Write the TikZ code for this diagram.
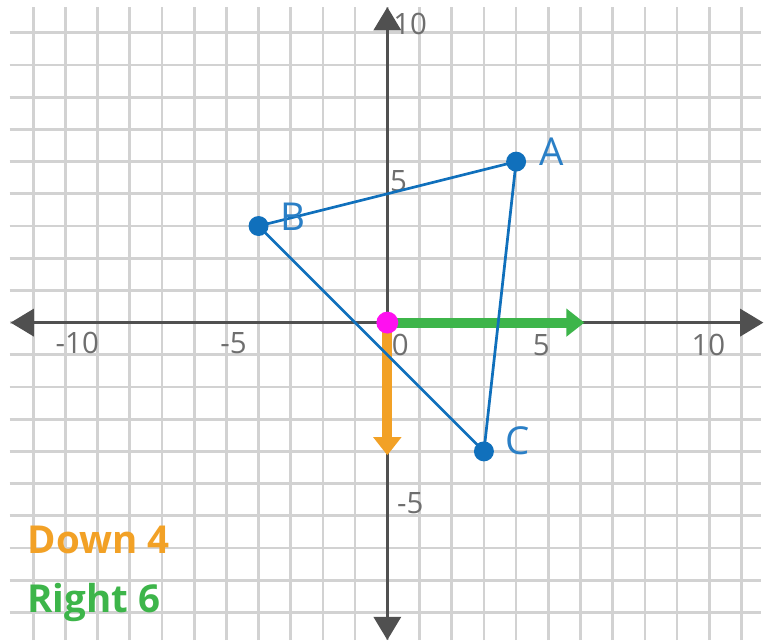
\documentclass[tikz,border=0pt]{standalone}
\usepackage{fontspec}
\setmainfont{Open Sans}
\usetikzlibrary{arrows.meta}
\definecolor{gridgray}{HTML}{D2D2D2}
\definecolor{axisgray}{HTML}{505050}
\definecolor{labgray}{HTML}{6E6E6E}
\definecolor{triblue}{HTML}{1070BC}
\definecolor{labblue}{HTML}{2A7FC6}
\definecolor{rightgreen}{HTML}{3DB54A}
\definecolor{downorange}{HTML}{F2A126}
\definecolor{origmag}{HTML}{FF10F0}

\begin{document}
\begin{tikzpicture}[
  gridline/.style={draw=gridgray, line width=2.4pt},
  axisline/.style={draw=axisgray, line width=2.8pt,
              {Triangle[length=0.72cm, width=0.84cm]}-{Triangle[length=0.72cm, width=0.84cm]}},
  ticklab/.style={text=labgray, font=\fontsize{26}{26}\selectfont, inner sep=0pt},
  side/.style={draw=triblue, line width=2.4pt},
  vertex/.style={circle, fill=triblue, inner sep=0pt, minimum size=0.62cm},
  vlab/.style={text=labblue, font=\fontsize{34}{34}\selectfont, inner sep=0pt},
  shift/.style={draw=#1, line width=8.8pt, -{Triangle[length=0.56cm, width=0.84cm]}},
  steplab/.style={text=#1, font=\bfseries\fontsize{34}{34}\selectfont, inner sep=0pt, anchor=base west},
]
\useasboundingbox[fill=white] (-12.03,-9.86) rectangle (11.73,10.02);
% ---- grid and axes
\draw[gridline] (-11.73,-9.86) grid (11.6,9.8);
\coordinate (xmin) at (-11.7,0);
\coordinate (xmax) at (11.68,0);
\coordinate (ymin) at (0,-9.86);
\coordinate (ymax) at (0,9.8);
\draw[axisline] (xmin) -- (xmax);
\draw[axisline] (ymin) -- (ymax);
\node[ticklab] (xm10) at (-9.63,-0.64) {-10};
\node[ticklab] (xm5) at (-4.78,-0.64) {-5};
\node[ticklab] (x0) at (0.4,-0.7) {0};
\node[ticklab] (x5) at (4.78,-0.7) {5};
\node[ticklab] (x10) at (9.97,-0.7) {10};
\node[ticklab] (y10) at (0.71,9.27) {10};
\node[ticklab] (y5) at (0.35,4.4) {5};
\node[ticklab] (ym5) at (0.71,-5.6) {-5};
% ---- translation arrows from the origin
\coordinate (O) at (0,0);
\coordinate (R6) at (6,0);
\coordinate (D4) at (0,-4);
\draw[shift=rightgreen, shorten >=-0.12cm] (O) -- (R6);
\draw[shift=downorange, shorten >=-0.12cm] (O) -- (D4);
% ---- triangle ABC
\coordinate (A) at (4,5);
\coordinate (B) at (-4,3);
\coordinate (C) at (3,-4);
\draw[side] (A) -- (B) -- (C) -- cycle;
\node[vertex] (dotA) at (A) {};
\node[vertex] (dotB) at (B) {};
\node[vertex] (dotC) at (C) {};
\node[vlab] (labA) at (5.09,5.3) {A};
\node[vlab] (labB) at (-2.92,3.3) {B};
\node[vlab] (labC) at (4.04,-3.68) {C};
\node[circle, fill=origmag, inner sep=0pt, minimum size=0.68cm] (dotO) at (O) {};
% ---- legend
\node[steplab=downorange] (down) at (-11.18,-7.16) {Down 4};
\node[steplab=rightgreen] (right) at (-11.18,-8.99) {Right 6};
\end{tikzpicture}
\end{document}
